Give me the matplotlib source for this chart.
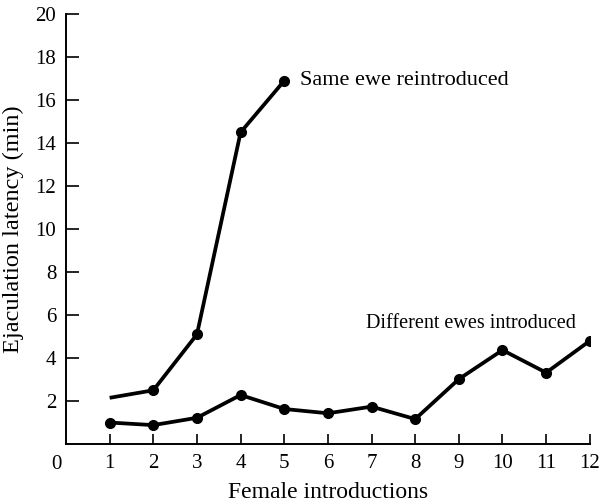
import matplotlib
matplotlib.use("Agg")
import matplotlib.pyplot as plt

introductions = list(range(1, 13))
same_x = [1, 2, 3, 4, 5]
same_ewe = [2.15, 2.5, 5.1, 14.5, 16.9]
different_ewes = [1.0, 0.88, 1.22, 2.28, 1.63, 1.43, 1.74, 1.16, 3.02, 4.37, 3.32, 4.8]
yticks = [2, 4, 6, 8, 10, 12, 14, 16, 18, 20]

plt.rcParams['font.family'] = ['Liberation Serif', 'DejaVu Serif']

fig = plt.figure(figsize=(6.0, 5.04), dpi=100)
ax = fig.add_axes([0.11, 0.119, 0.873, 0.853])

ax.plot(same_x, same_ewe, color='black', lw=2.7, solid_capstyle='butt')
ax.plot(same_x[1:], same_ewe[1:], 'o', color='black', ms=7)
ax.plot(introductions, different_ewes, color='black', lw=2.7, marker='o', ms=7)

ax.set_xlim(0, 12)
ax.set_ylim(0, 20)
ax.set_xticks(introductions)
ax.set_yticks(yticks)
ax.tick_params(axis='both', direction='in', width=1.2, labelsize=15)
ax.tick_params(axis='y', length=9, pad=7)
ax.tick_params(axis='x', length=7, pad=7)
for s in ['top', 'right']:
    ax.spines[s].set_visible(False)
for s in ['left', 'bottom']:
    ax.spines[s].set_linewidth(1.4)

ax.text(-0.11, -0.52, '0', ha='right', va='top', fontsize=15, clip_on=False)

ax.set_xlabel('Female introductions', fontsize=17, labelpad=7)
ax.set_ylabel('Ejaculation latency (min)', fontsize=17.5, labelpad=8)

ax.text(5.35, same_ewe[-1], 'Same ewe reintroduced', fontsize=16, va='center', ha='left')
ax.text(9.28, 5.6, 'Different ewes introduced', fontsize=14.5, va='center', ha='center')

fig.savefig('out.png', dpi=100)
